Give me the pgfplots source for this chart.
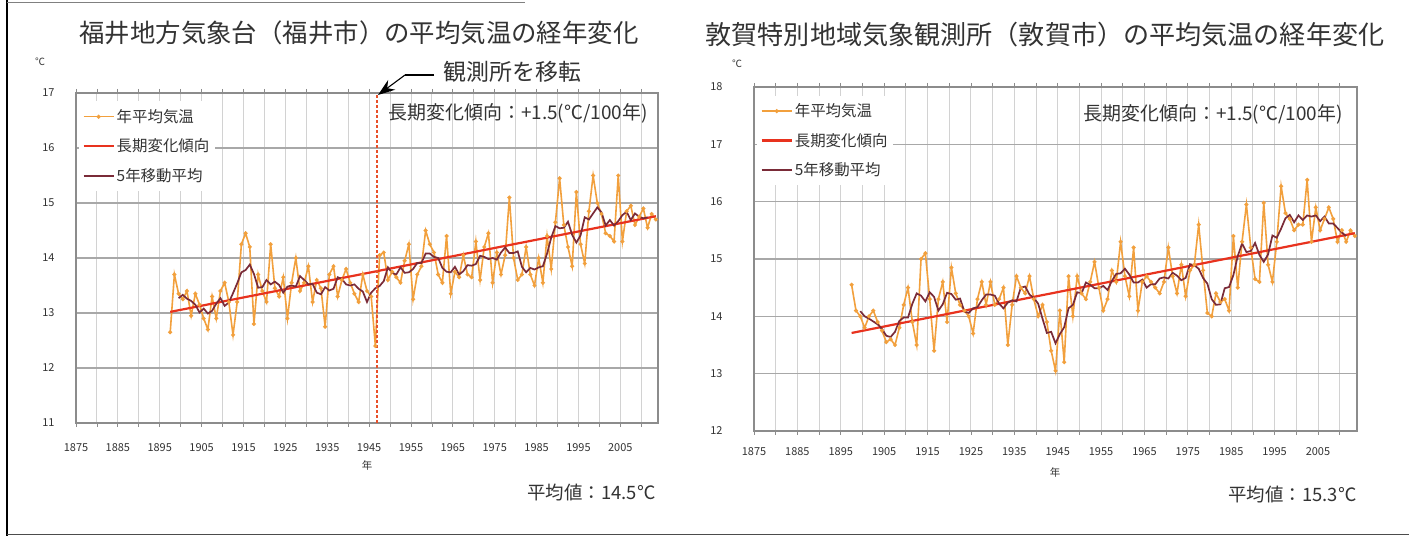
\documentclass[border=0pt]{standalone}
\usepackage{fontspec}
\setmainfont{Noto Sans CJK JP}
\usepackage{pgfplots}
\pgfplotsset{compat=1.18}
\usepackage{pgfplotstable}
\usetikzlibrary{arrows.meta}

\definecolor{annual}{HTML}{F2A03D}
\definecolor{trend}{HTML}{E8321E}
\definecolor{mavg}{HTML}{7A2B38}
\definecolor{vgrid}{HTML}{D2D2D2}
\definecolor{hgrid}{HTML}{A8A8A8}
\definecolor{frame}{HTML}{8C8C8C}
\definecolor{txt}{HTML}{333333}
\definecolor{moveline}{HTML}{E8502A}

% Fukui annual mean temperature
\pgfplotstableread{
year t
1897 12.65
1898 13.70
1899 13.35
1900 13.25
1901 13.40
1902 12.95
1903 13.35
1904 13.15
1905 12.90
1906 12.70
1907 13.30
1908 12.90
1909 13.40
1910 13.55
1911 13.20
1912 12.60
1913 13.20
1914 14.25
1915 14.45
1916 14.20
1917 12.80
1918 13.70
1919 13.40
1920 13.20
1921 14.25
1922 13.45
1923 13.30
1924 13.65
1925 12.90
1926 13.55
1927 14.00
1928 13.40
1929 13.55
1930 13.85
1931 13.20
1932 13.60
1933 13.45
1934 12.75
1935 13.70
1936 13.85
1937 13.30
1938 13.60
1939 13.80
1940 13.55
1941 13.35
1942 13.20
1943 13.70
1944 13.40
1945 13.30
1946 12.40
1947 14.05
1948 14.10
1949 13.60
1950 13.75
1951 13.65
1952 13.55
1953 13.95
1954 14.25
1955 13.25
1956 13.70
1957 13.85
1958 14.50
1959 14.25
1960 14.10
1961 13.70
1962 13.55
1963 14.40
1964 13.35
1965 13.75
1966 13.65
1967 14.05
1968 13.70
1969 13.65
1970 14.30
1971 13.60
1972 14.20
1973 14.45
1974 13.55
1975 14.10
1976 13.70
1977 14.05
1978 15.10
1979 14.00
1980 13.60
1981 13.70
1982 14.20
1983 13.70
1984 13.50
1985 14.00
1986 13.55
1987 14.40
1988 13.80
1989 14.65
1990 15.45
1991 14.60
1992 14.20
1993 13.85
1994 15.20
1995 14.25
1996 13.90
1997 14.85
1998 15.50
1999 15.00
2000 14.80
2001 14.45
2002 14.40
2003 14.30
2004 15.50
2005 14.30
2006 14.85
2007 14.95
2008 14.60
2009 14.75
2010 14.90
2011 14.55
2012 14.80
2013 14.70
}\fukui

% Fukui 5-year moving average
\pgfplotstableread{
year ma
1899 13.27
1900 13.33
1901 13.26
1902 13.22
1903 13.15
1904 13.01
1905 13.08
1906 12.99
1907 13.04
1908 13.17
1909 13.27
1910 13.13
1911 13.19
1912 13.36
1913 13.54
1914 13.74
1915 13.78
1916 13.88
1917 13.71
1918 13.46
1919 13.47
1920 13.60
1921 13.52
1922 13.57
1923 13.51
1924 13.37
1925 13.48
1926 13.50
1927 13.48
1928 13.67
1929 13.60
1930 13.52
1931 13.53
1932 13.37
1933 13.34
1934 13.47
1935 13.41
1936 13.44
1937 13.65
1938 13.62
1939 13.52
1940 13.50
1941 13.52
1942 13.44
1943 13.39
1944 13.20
1945 13.37
1946 13.45
1947 13.49
1948 13.58
1949 13.83
1950 13.73
1951 13.70
1952 13.83
1953 13.73
1954 13.74
1955 13.80
1956 13.91
1957 13.91
1958 14.08
1959 14.08
1960 14.02
1961 14.00
1962 13.82
1963 13.75
1964 13.74
1965 13.84
1966 13.70
1967 13.76
1968 13.87
1969 13.86
1970 13.89
1971 14.04
1972 14.02
1973 13.98
1974 14.00
1975 13.97
1976 14.10
1977 14.19
1978 14.09
1979 14.09
1980 14.12
1981 13.84
1982 13.74
1983 13.82
1984 13.79
1985 13.83
1986 13.85
1987 14.08
1988 14.37
1989 14.58
1990 14.54
1991 14.55
1992 14.66
1993 14.42
1994 14.28
1995 14.41
1996 14.74
1997 14.70
1998 14.81
1999 14.92
2000 14.83
2001 14.59
2002 14.69
2003 14.59
2004 14.67
2005 14.78
2006 14.84
2007 14.69
2008 14.81
2009 14.75
2010 14.72
2011 14.74
}\fukuima

% Tsuruga annual mean temperature
\pgfplotstableread{
year t
1897 14.55
1898 14.10
1899 14.00
1900 13.80
1901 14.00
1902 14.10
1903 13.90
1904 13.75
1905 13.55
1906 13.60
1907 13.50
1908 13.80
1909 14.20
1910 14.50
1911 13.90
1912 13.50
1913 15.00
1914 15.10
1915 14.30
1916 13.40
1917 14.30
1918 14.60
1919 13.90
1920 14.85
1921 14.40
1922 14.20
1923 14.10
1924 14.00
1925 13.70
1926 14.30
1927 14.60
1928 14.20
1929 14.60
1930 14.20
1931 14.30
1932 14.50
1933 13.50
1934 14.20
1935 14.70
1936 14.50
1937 14.40
1938 14.70
1939 14.30
1940 14.00
1941 14.20
1942 13.90
1943 13.40
1944 13.05
1945 14.10
1946 13.20
1947 14.70
1948 14.00
1949 14.70
1950 14.40
1951 14.30
1952 14.60
1953 14.95
1954 14.50
1955 14.10
1956 14.30
1957 14.80
1958 14.60
1959 15.30
1960 14.70
1961 14.35
1962 15.20
1963 14.10
1964 14.60
1965 14.70
1966 14.60
1967 14.50
1968 14.40
1969 14.60
1970 15.20
1971 14.70
1972 14.40
1973 14.90
1974 14.35
1975 14.80
1976 14.90
1977 15.60
1978 14.80
1979 14.06
1980 14.00
1981 14.40
1982 14.25
1983 14.30
1984 14.10
1985 15.40
1986 14.50
1987 15.30
1988 15.95
1989 15.20
1990 14.65
1991 14.60
1992 15.98
1993 14.90
1994 14.60
1995 15.30
1996 16.27
1997 15.80
1998 15.70
1999 15.50
2000 15.60
2001 15.60
2002 16.38
2003 15.30
2004 15.90
2005 15.50
2006 15.70
2007 15.90
2008 15.70
2009 15.30
2010 15.50
2011 15.30
2012 15.50
2013 15.40
}\tsuruga

% Tsuruga 5-year moving average
\pgfplotstableread{
year ma
1899 14.09
1900 14.00
1901 13.96
1902 13.91
1903 13.86
1904 13.78
1905 13.66
1906 13.64
1907 13.73
1908 13.92
1909 13.98
1910 13.98
1911 14.22
1912 14.40
1913 14.36
1914 14.26
1915 14.42
1916 14.34
1917 14.10
1918 14.21
1919 14.41
1920 14.39
1921 14.29
1922 14.31
1923 14.08
1924 14.06
1925 14.14
1926 14.16
1927 14.28
1928 14.38
1929 14.38
1930 14.36
1931 14.22
1932 14.14
1933 14.24
1934 14.28
1935 14.26
1936 14.50
1937 14.52
1938 14.38
1939 14.32
1940 14.22
1941 13.96
1942 13.71
1943 13.73
1944 13.53
1945 13.69
1946 13.81
1947 14.14
1948 14.20
1949 14.42
1950 14.40
1951 14.59
1952 14.55
1953 14.49
1954 14.49
1955 14.53
1956 14.46
1957 14.62
1958 14.74
1959 14.75
1960 14.83
1961 14.73
1962 14.59
1963 14.59
1964 14.64
1965 14.50
1966 14.56
1967 14.56
1968 14.66
1969 14.68
1970 14.66
1971 14.76
1972 14.71
1973 14.63
1974 14.67
1975 14.91
1976 14.89
1977 14.83
1978 14.67
1979 14.57
1980 14.30
1981 14.20
1982 14.21
1983 14.49
1984 14.51
1985 14.72
1986 15.05
1987 15.27
1988 15.12
1989 15.14
1990 15.28
1991 15.07
1992 14.95
1993 15.08
1994 15.41
1995 15.37
1996 15.53
1997 15.71
1998 15.77
1999 15.64
2000 15.76
2001 15.68
2002 15.76
2003 15.74
2004 15.76
2005 15.66
2006 15.74
2007 15.62
2008 15.62
2009 15.54
2010 15.46
2011 15.40
}\tsurugama

\pgfplotsset{
  tempchart/.style={
    scale only axis,
    anchor=south west,
    xmin=1874.5, xmax=2013.5,
    xtick={1874.5,1884.5,1894.5,1904.5,1914.5,1924.5,1934.5,1944.5,1954.5,1964.5,1974.5,1984.5,1994.5,2004.5},
    xticklabels={1875,1885,1895,1905,1915,1925,1935,1945,1955,1965,1975,1985,1995,2005},
    minor xtick={1879.5,1889.5,1899.5,1909.5,1919.5,1929.5,1939.5,1949.5,1959.5,1969.5,1979.5,1989.5,1999.5,2009.5},
    xmajorgrids, xminorgrids, ymajorgrids,
    x grid style={draw=vgrid, line width=0.9bp},
    y grid style={draw=hgrid, line width=1.3bp},
    minor grid style={draw=vgrid, line width=0.9bp},
    axis line style={draw=frame, line width=1.3bp},
    tick align=outside,
    major tick length=4bp, minor tick length=4bp,
    tick style={draw=frame, line width=0.8bp},
    ytick style={draw=none},
    /pgf/number format/assume math mode=true,
    tick label style={font=\fontsize{11}{13}\selectfont, text=txt},
    legend image code/.code={\draw[mark repeat=2,mark phase=2,#1] plot coordinates {(0bp,0bp) (15bp,0bp) (30bp,0bp)};},
    legend style={draw=none, fill=white, font=\fontsize{15.5}{17}\selectfont, text=txt,
      anchor=north west, row sep=11bp, inner xsep=4bp, inner ysep=6bp,
      cells={anchor=west}},
    clip=false,
  },
  annualstyle/.style={annual, line width=1.6bp, mark=*, mark size=1.1bp, mark options={draw=annual, fill=annual!55}},
  trendstyle/.style={trend, line width=2.2bp},
  mastyle/.style={mavg, line width=1.7bp},
}

\begin{document}
\begin{tikzpicture}[x=1bp,y=1bp]
\useasboundingbox (0,0) rectangle (1409,536);
\fill[white] (0,0) rectangle (1409,536);

% ---------- left chart: Fukui ----------
\begin{axis}[tempchart, at={(76bp,113bp)}, width=582bp, height=330bp,
  ymin=11, ymax=17, ytick={11,12,13,14,15,16,17},
  yticklabel style={xshift=-14bp},
  xticklabel style={yshift=-13bp},
  legend style={at={(rel axis cs:0.004,0.975)}}]
\addplot[annualstyle] table[x=year, y=t] {\fukui};
\addplot[trendstyle] coordinates {(1897,13.02) (2013,14.76)};
\addplot[mastyle] table[x=year, y=ma] {\fukuima};
\legend{年平均気温,長期変化傾向,5年移動平均}
\draw[draw=moveline, line width=2bp, dash pattern=on 3bp off 2bp] (axis cs:1946.5,11) -- (axis cs:1946.5,17);
\end{axis}

% ---------- right chart: Tsuruga ----------
\begin{axis}[tempchart, at={(754bp,105bp)}, width=603bp, height=344bp,
  ymin=12, ymax=18, ytick={12,13,14,15,16,17,18},
  yticklabel style={xshift=-24bp},
  xticklabel style={yshift=-9bp},
  legend style={at={(rel axis cs:0.004,0.975)}}]
\addplot[annualstyle] table[x=year, y=t] {\tsuruga};
\addplot[trendstyle] coordinates {(1897,13.71) (2013,15.45)};
\addplot[mastyle] table[x=year, y=ma] {\tsurugama};
\legend{年平均気温,長期変化傾向,5年移動平均}
\end{axis}

% ---------- texts ----------
\node[text=txt, font=\fontsize{25.5}{30}\selectfont] at (359,503) {福井地方気象台（福井市）の平均気温の経年変化};
\node[text=txt, font=\fontsize{26.2}{30}\selectfont] at (1045,501) {敦賀特別地域気象観測所（敦賀市）の平均気温の経年変化};

\node[text=txt, font=\fontsize{10}{12}\selectfont] at (40,474) {℃};
\node[text=txt, font=\fontsize{10}{12}\selectfont] at (737,472) {℃};

\node[text=txt, font=\fontsize{23}{26}\selectfont, anchor=west] at (440,464) {観測所を移転};
\draw[black, line width=1.1bp] (434,461) -- (405,461);
\draw[black, line width=1.1bp, -{Stealth[length=17bp,width=12bp]}] (405,461) -- (378,441);

\node[text=txt, font=\fontsize{19}{22}\selectfont] at (518,423) {長期変化傾向：+1.5(℃/100年)};
\node[text=txt, font=\fontsize{19}{22}\selectfont] at (1213,422) {長期変化傾向：+1.5(℃/100年)};

\node[text=txt, font=\fontsize{10.5}{12}\selectfont] at (367,70) {年};
\node[text=txt, font=\fontsize{10.5}{12}\selectfont] at (1055,63) {年};

\node[text=txt, font=\fontsize{18.5}{22}\selectfont, anchor=east] at (659,43) {平均値：14.5℃};
\node[text=txt, font=\fontsize{18.5}{22}\selectfont, anchor=east] at (1360,41) {平均値：15.3℃};

% frame lines
\draw[black, line width=1.6bp] (7,0) -- (7,536);
\draw[gray, line width=1.2bp] (7,533.5) -- (525,533.5);
\draw[black!70, line width=1.4bp] (7,1.5) -- (1409,1.5);
\end{tikzpicture}
\end{document}
